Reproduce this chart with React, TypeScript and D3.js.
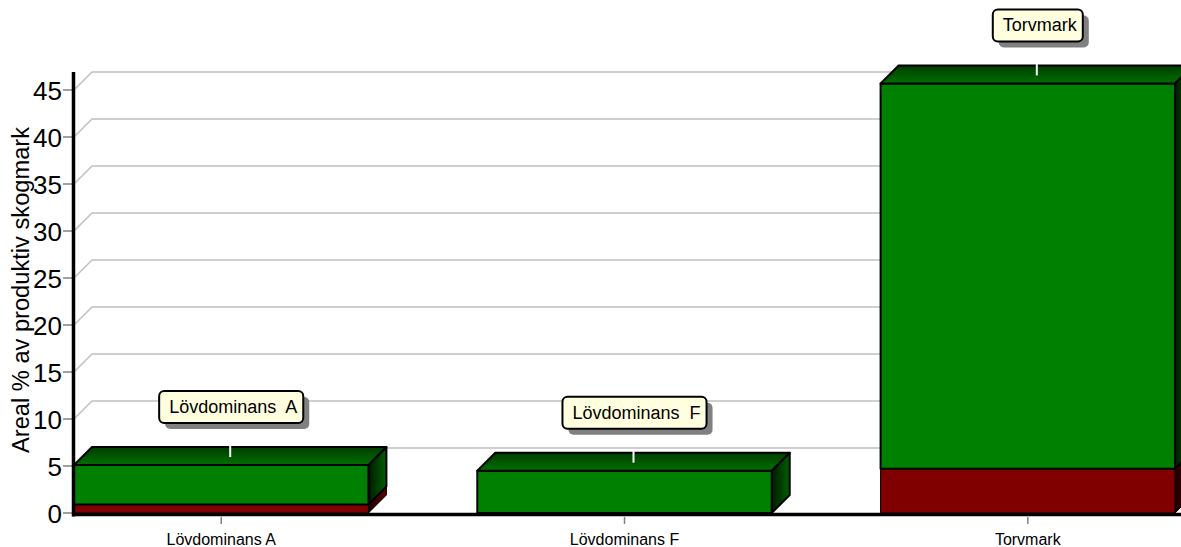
import { useEffect, useRef } from 'react'
import * as d3 from 'd3'

// bar chart with fake 3D depth, stacked red (bottom) + green (top)
const categories = ['Lövdominans A', 'Lövdominans F', 'Torvmark']
const callouts = ['Lövdominans  A', 'Lövdominans  F', 'Torvmark']
const redValues = [0.9, 0, 4.7]
const greenValues = [4.2, 4.5, 41.0]
const yTicks = [0, 5, 10, 15, 20, 25, 30, 35, 40, 45]
const yTitle = 'Areal % av produktiv skogmark'

const W = 1181
const H = 547
const DEPTH = 18
const FONT = '"Liberation Sans", Arial, sans-serif'

export default function App() {
  const ref = useRef<SVGSVGElement>(null)

  useEffect(() => {
    const el = ref.current
    if (!el) return
    const svg = d3.select(el)
    svg.selectAll('*').remove()

    const x = d3
      .scaleBand<string>()
      .domain(categories)
      .range([74, 1175])
      .paddingInner(0.27)
      .paddingOuter(0)
    const y = d3.scaleLinear().domain([0, 45]).range([513, 90])
    const bw = x.bandwidth()

    // gradients
    const defs = svg.append('defs')
    const grad = (id: string, x2: string, y2: string, a: string, b: string) => {
      const g = defs
        .append('linearGradient')
        .attr('id', id)
        .attr('x1', '0')
        .attr('y1', '0')
        .attr('x2', x2)
        .attr('y2', y2)
      g.append('stop').attr('offset', '0%').attr('stop-color', a)
      g.append('stop').attr('offset', '100%').attr('stop-color', b)
    }
    grad('gTop', '0', '1', '#003c00', '#007000')
    grad('gSide', '1', '0', '#001a00', '#006000')
    grad('rTop', '0', '1', '#3c0000', '#700000')
    grad('rSide', '1', '0', '#1a0000', '#5a0000')

    const colors = [
      { front: '#800000', top: 'url(#rTop)', side: 'url(#rSide)', sw: 1 },
      { front: '#008000', top: 'url(#gTop)', side: 'url(#gSide)', sw: 2 },
    ]

    // gridlines (behind everything)
    const grid = svg.append('g').attr('fill', 'none').attr('stroke', '#c0c0c0').attr('stroke-width', 1.5)
    yTicks
      .filter(t => t > 0)
      .forEach(t => {
        const yy = y(t)
        grid
          .append('path')
          .attr('d', `M74,${yy}L${74 + DEPTH},${yy - DEPTH}L${W},${yy - DEPTH}`)
      })

    // x axis line
    svg
      .append('line')
      .attr('x1', 72)
      .attr('x2', W)
      .attr('y1', 514.5)
      .attr('y2', 514.5)
      .attr('stroke', '#000')
      .attr('stroke-width', 3.5)

    // stacked data
    const rows = categories.map((c, i) => ({ cat: c, red: redValues[i], green: greenValues[i] }))
    const stacked = d3.stack<any>().keys(['red', 'green'])(rows)

    const bars = svg.append('g')
    stacked.forEach((series, si) => {
      const col = colors[si]
      series.forEach(d => {
        if (d[1] - d[0] <= 0) return
        const x0 = x(d.data.cat) as number
        const x1 = x0 + bw
        const yt = y(d[1])
        const yb = y(d[0])
        const g = bars.append('g').attr('stroke', '#000').attr('stroke-width', col.sw).attr('stroke-linejoin', 'round')
        g.append('path')
          .attr('d', `M${x1},${yt}L${x1 + DEPTH},${yt - DEPTH}L${x1 + DEPTH},${yb - DEPTH}L${x1},${yb}Z`)
          .attr('fill', col.side)
        g.append('rect')
          .attr('x', x0)
          .attr('y', yt)
          .attr('width', bw)
          .attr('height', yb - yt)
          .attr('fill', col.front)
        g.append('path')
          .attr('d', `M${x0},${yt}L${x0 + DEPTH},${yt - DEPTH}L${x1 + DEPTH},${yt - DEPTH}L${x1},${yt}Z`)
          .attr('fill', col.top)
      })
    })

    // y axis
    const ya = svg.append('g')
    yTicks.forEach(t => {
      ya.append('line')
        .attr('x1', 63)
        .attr('x2', 73)
        .attr('y1', y(t))
        .attr('y2', y(t))
        .attr('stroke', '#808080')
        .attr('stroke-width', 1.5)
      ya.append('text')
        .attr('x', 62)
        .attr('y', y(t) + 10)
        .attr('text-anchor', 'end')
        .attr('font-family', FONT)
        .attr('font-size', 26)
        .attr('fill', '#000')
        .text(String(t))
    })
    ya.append('line')
      .attr('x1', 73.5)
      .attr('x2', 73.5)
      .attr('y1', 72)
      .attr('y2', 516.5)
      .attr('stroke', '#000')
      .attr('stroke-width', 3.5)

    svg
      .append('text')
      .attr('transform', 'translate(29,290) rotate(-90)')
      .attr('text-anchor', 'middle')
      .attr('font-family', FONT)
      .attr('font-size', 23)
      .attr('textLength', 326)
      .attr('lengthAdjust', 'spacingAndGlyphs')
      .text(yTitle)

    // x axis ticks and labels
    categories.forEach(c => {
      const cx = (x(c) as number) + bw / 2
      svg
        .append('line')
        .attr('x1', cx)
        .attr('x2', cx)
        .attr('y1', 517)
        .attr('y2', 524)
        .attr('stroke', '#808080')
        .attr('stroke-width', 1.5)
      svg
        .append('text')
        .attr('x', cx)
        .attr('y', 545)
        .attr('text-anchor', 'middle')
        .attr('font-family', FONT)
        .attr('font-size', 16)
        .text(c)
    })

    // callouts with white marker in the top face
    categories.forEach((c, i) => {
      const cx = (x(c) as number) + bw / 2 + DEPTH / 2
      const yBack = y(redValues[i] + greenValues[i]) - DEPTH
      svg
        .append('line')
        .attr('x1', cx)
        .attr('x2', cx)
        .attr('y1', yBack - 2)
        .attr('y2', yBack + 10)
        .attr('stroke', '#fff')
        .attr('stroke-width', 2)

      const g = svg.append('g')
      const boxB = yBack - 24
      const boxH = 32
      const shadow = g.append('rect')
      const box = g.append('rect')
      const txt = g
        .append('text')
        .attr('x', cx + 3)
        .attr('y', boxB - boxH / 2 + 6)
        .attr('text-anchor', 'middle')
        .attr('font-family', FONT)
        .attr('font-size', 18)
        .attr('xml:space', 'preserve')
        .style('white-space', 'pre')
        .text(callouts[i])
      const tw = (txt.node() as SVGTextElement).getComputedTextLength()
      const bwid = tw + 16
      const bx = cx + 1 - bwid / 2
      shadow
        .attr('x', bx + 6)
        .attr('y', boxB - boxH + 6)
        .attr('width', bwid)
        .attr('height', boxH)
        .attr('rx', 5)
        .attr('fill', '#808080')
      box
        .attr('x', bx)
        .attr('y', boxB - boxH)
        .attr('width', bwid)
        .attr('height', boxH)
        .attr('rx', 5)
        .attr('fill', '#ffffe0')
        .attr('stroke', '#000')
        .attr('stroke-width', 2)
    })
  }, [])

  return (
    <svg
      ref={ref}
      width={W}
      height={H}
      style={{ position: 'absolute', left: 0, top: 0, background: '#fff' }}
    />
  )
}
